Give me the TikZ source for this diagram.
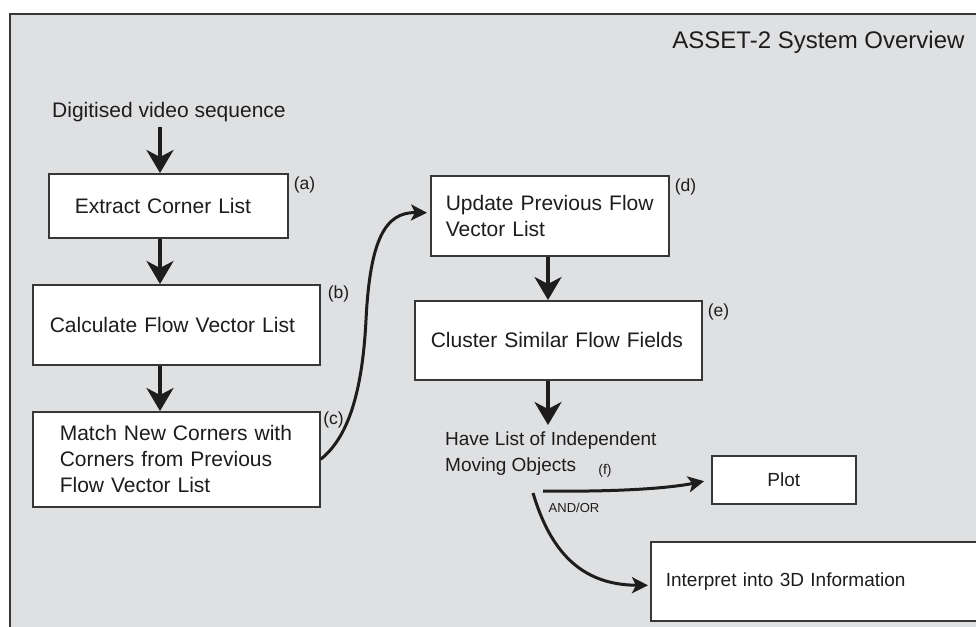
\documentclass[tikz,border=0pt]{standalone}
\usepackage{fontspec}
\setmainfont{Liberation Sans}
\usetikzlibrary{arrows.meta}
\definecolor{panelgray}{RGB}{223,224,226}
\definecolor{framegray}{RGB}{55,55,55}
\definecolor{inkgray}{RGB}{30,28,29}

\begin{document}
\begin{tikzpicture}
  [
    x = 1pt, y = -1pt,   % pixel grid, y grows downwards
    every node/.style = {text = inkgray, font = \fontsize{21}{26}\selectfont},
    small/.style = {font = \fontsize{19}{26}\selectfont},
    box/.style  = {draw = framegray, fill = white, line width = 1.6pt,
                   anchor = north west, align = left, inner ysep = 0pt},
    tag/.style  = {font = \fontsize{17.5}{20}\selectfont},
    flow/.style = {draw = inkgray, line width = 3.5pt,
                   -{Stealth[length=23pt, width=27pt, inset=7pt]}},
    curvy/.style = {draw = inkgray, line width = 3pt,
                   -{Stealth[length=16pt, width=16pt, inset=4pt]}}
  ]
  \useasboundingbox (0,0) rectangle (976,626);
  \clip (0,0) rectangle (976,626);
  \draw[fill = panelgray, draw = framegray, line width = 2pt] (10,14) rectangle (1000,650);

  \node[anchor = east, font = \fontsize{24}{28}\selectfont] (Title) at (968,42) {ASSET-2 System Overview};
  \node[anchor = south west, inner xsep = 0pt, inner ysep = 5pt] (Video) at (52,127) {Digitised video sequence};

  % left column
  \node[box, inner xsep = 26pt, text width = 187pt, minimum height = 64pt] (Extract) at (48,173) {Extract Corner List};
  \node[box, inner xsep = 17pt, text width = 253pt, minimum height = 80pt] (Calc) at (32,284) {Calculate Flow Vector List};
  \node[box, inner xsep = 27pt, text width = 233pt, minimum height = 95pt] (Match) at (32,411)
    {Match New Corners with\\Corners from Previous\\Flow Vector List};

  % right column
  \node[box, inner xsep = 15pt, text width = 208pt, minimum height = 80pt] (Update) at (430,175)
    {Update Previous Flow\\Vector List};
  \node[box, inner xsep = 16pt, text width = 255pt, minimum height = 79pt] (Cluster) at (414,300) {Cluster Similar Flow Fields};
  \node[small, anchor = north west, inner xsep = 0pt, inner ysep = 7pt, align = left] (Objects) at (445,425)
    {Have List of Independent\\Moving Objects};
  \node[box, small, inner xsep = 0pt, text width = 144pt, minimum height = 48pt, align = center] (Plot) at (711,455) {Plot};
  \node[box, small, inner xsep = 15pt, text width = 310pt, minimum height = 79pt] (Interp) at (650,541) {Interpret into 3D Information};
  \node[font = \fontsize{13}{15}\selectfont] (AndOr) at (574,508) {AND/OR};

  \begin{scope}[nodes = {tag}]
    \node (TagA) at ([xshift = 16pt, yshift = -12pt]Extract.north east) {(a)};
    \node (TagB) at ([xshift = 18pt, yshift = -10pt]Calc.north east) {(b)};
    \node (TagC) at ([xshift = 13pt, yshift = -9pt]Match.north east) {(c)};
    \node (TagD) at ([xshift = 16pt, yshift = -12pt]Update.north east) {(d)};
    \node (TagE) at ([xshift = 16pt, yshift = -12pt]Cluster.north east) {(e)};
    \node[font = \fontsize{14}{16}\selectfont] (TagF) at (605,471) {(f)};
  \end{scope}

  \coordinate (ColL) at (160,0);
  \coordinate (ColR) at (548,0);
  \coordinate (ForkA) at (543,491);
  \coordinate (ForkB) at (533,493);

  \draw[flow] (Video.south -| ColL) -- (Extract.north -| ColL);
  \draw[flow] (Extract.south -| ColL) -- (Calc.north -| ColL);
  \draw[flow] (Calc.south -| ColL) -- (Match.north -| ColL);
  \draw[flow] (Update.south -| ColR) -- (Cluster.north -| ColR);
  \draw[flow] (Cluster.south -| ColR) -- (Objects.north -| ColR);

  \draw[curvy, shorten > = 3pt] (Match.east) .. controls (345,440) and (362,400) .. (366,320)
    .. controls (370,240) and (385,212) .. ([yshift = 3pt]Update.west);
  \draw[curvy, shorten > = 7pt] (ForkA) .. controls (620,492) and (670,488) .. (Plot.west);
  \draw[curvy, shorten > = 2pt] (ForkB) .. controls (550,550) and (580,585) .. ([yshift = -4pt]Interp.west);
\end{tikzpicture}
\end{document}
